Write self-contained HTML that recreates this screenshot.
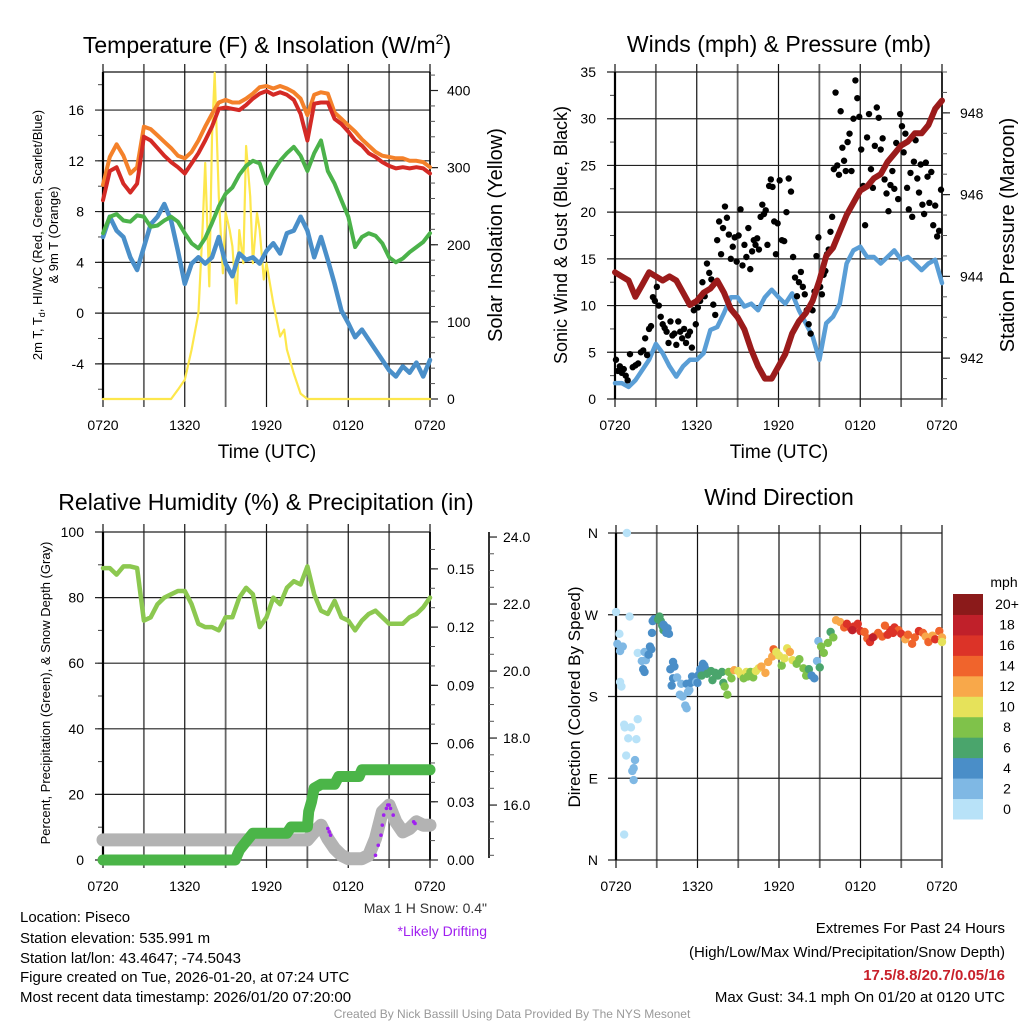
<!DOCTYPE html>
<html><head><meta charset="utf-8"><style>
html,body{margin:0;padding:0;background:#fff;}
svg{display:block;font-family:"Liberation Sans",sans-serif;}
</style></head><body>
<svg id="chart" width="1024" height="1024" viewBox="0 0 1024 1024" xmlns="http://www.w3.org/2000/svg">
<rect width="1024" height="1024" fill="#fff"/>
<text x="267" y="53" font-size="23" text-anchor="middle">Temperature (F) &amp; Insolation (W/m<tspan dy="-9" font-size="14">2</tspan><tspan dy="9">)</tspan></text>
<text x="779" y="52" font-size="23" text-anchor="middle">Winds (mph) &amp; Pressure (mb)</text>
<text x="266" y="510" font-size="23" text-anchor="middle">Relative Humidity (%) &amp; Precipitation (in)</text>
<text x="779" y="505" font-size="23" text-anchor="middle">Wind Direction</text>

<text transform="translate(42,235) rotate(-90)" font-size="13" text-anchor="middle">2m T, T<tspan font-size="9" dy="3">d</tspan><tspan dy="-3">, HI/WC (Red, Green, Scarlet/Blue)</tspan></text>
<text transform="translate(58,235) rotate(-90)" font-size="13" text-anchor="middle">&amp; 9m T (Orange)</text>
<text transform="translate(502,235) rotate(-90)" font-size="20" text-anchor="middle">Solar Insolation (Yellow)</text>
<text transform="translate(567,235) rotate(-90)" font-size="18" text-anchor="middle">Sonic Wind &amp; Gust (Blue, Black)</text>
<text transform="translate(1014,235) rotate(-90)" font-size="20" text-anchor="middle">Station Pressure (Maroon)</text>
<text transform="translate(50,693) rotate(-90)" font-size="13" text-anchor="middle">Percent, Precipitation (Green), &amp; Snow Depth (Gray)</text>
<text transform="translate(580,697) rotate(-90)" font-size="17" text-anchor="middle">Direction (Colored By Speed)</text>
<text x="267" y="458" font-size="19" text-anchor="middle">Time (UTC)</text>
<text x="779" y="458" font-size="19" text-anchor="middle">Time (UTC)</text>

<text x="487" y="913" font-size="14" fill="#333" text-anchor="end">Max 1 H Snow: 0.4"</text>
<text x="487" y="936" font-size="14" fill="#a020f0" text-anchor="end">*Likely Drifting</text>
<g font-size="15">
<text x="20" y="922">Location: Piseco</text>
<text x="20" y="943">Station elevation: 535.991 m</text>
<text x="20" y="963">Station lat/lon: 43.4647; -74.5043</text>
<text x="20" y="982">Figure created on Tue, 2026-01-20, at 07:24 UTC</text>
<text x="20" y="1002">Most recent data timestamp: 2026/01/20 07:20:00</text>
</g>
<g font-size="15" text-anchor="end">
<text x="1005" y="933">Extremes For Past 24 Hours</text>
<text x="1005" y="957">(High/Low/Max Wind/Precipitation/Snow Depth)</text>
<text x="1005" y="980" fill="#c8202a" font-weight="bold">17.5/8.8/20.7/0.05/16</text>
<text x="1005" y="1002">Max Gust: 34.1 mph On 01/20 at 0120 UTC</text>
</g>
<text x="512" y="1018" font-size="12" fill="#999" text-anchor="middle">Created By Nick Bassill Using Data Provided By The NYS Mesonet</text>
<text x="1004" y="587" font-size="14" text-anchor="middle">mph</text>
</svg>
<script>
const hh=[0,0.5,1,1.5,2,2.5,3,3.5,4,4.5,5,5.5,6,6.5,7,7.5,8,8.5,9,9.5,10,10.5,11,11.5,12,12.5,13,13.5,14,14.5,15,15.5,16,16.5,17,17.5,18,18.5,19,19.5,20,20.5,21,21.5,22,22.5,23,23.5,24];
const timeLabels=['0720','1320','1920','0120','0720'];
const tempRed=[8.9,11.2,11.5,10.2,9.5,10.2,13.9,13.6,13,12.4,11.9,11.5,11,11.8,12.6,13.6,14.7,16.1,16.2,16.1,16,16.4,16.9,17.3,17.5,17.2,17.4,17.2,16.8,15.7,13.6,16.5,16.6,16.6,15.3,14.9,14.3,13.6,13.2,12.6,12.3,11.9,11.6,11.4,11.5,11.4,11.5,11.4,11.0];
const tempOrange=[10.1,12.3,13.3,12.4,11,11.5,14.7,14.5,14,13.5,13,12.4,12.2,12.7,13.6,14.7,15.7,16.6,16.8,16.6,16.6,16.9,17.3,17.8,17.9,17.7,17.9,17.7,17.4,16.9,15.6,17.2,17.4,17.3,15.8,15.3,14.8,14.3,13.7,13.2,12.7,12.4,12.3,12.2,12.2,12.0,12,11.9,11.5];
const tempDew=[6.3,7.6,7.8,7.3,7.2,7.7,7.6,6.8,6.9,7.3,7.6,7.2,6.3,5.5,5.1,5.9,7.1,8.4,9.4,9.9,10.9,11.6,12,11.8,10.2,11.2,12,12.6,13.1,12.4,11.2,12.6,13.6,11.2,10.2,8.9,7.6,5.2,6,6.3,6.1,5.5,4.4,4,4.3,4.8,5.2,5.6,6.3];
const windChill=[6,7.6,6.5,6,4.4,3.4,5.2,7,7.6,8.6,7.3,4.9,2.3,3.9,4.4,3.9,4.4,6,3.9,2.9,4.7,4.2,4.4,3.9,4.9,5.5,4.7,6.3,6.5,7.6,6.5,4.4,6,4.2,2.3,0.2,-0.8,-1.9,-1.3,-2.1,-2.9,-3.7,-4.5,-5,-4.2,-4.7,-3.9,-5,-3.7];
const solarHours=[0,5,5.5,6,6.5,7,7.3,7.5,7.8,8,8.2,8.5,8.8,9,9.3,9.5,9.8,10,10.3,10.5,10.8,11,11.3,11.5,11.8,12,12.5,13,13.3,13.5,14,14.5,15,24];
const solarVals=[0,0,12,25,64,111,219,306,146,340,423,263,163,242,219,198,124,219,176,328,263,176,241,219,155,176,124,81,90,64,33,7,0,0];
const tempTicks=[-4,0,4,8,12,16];
const solarTicks=[0,100,200,300,400];
const pressure=[944.1,944.0,943.9,943.5,943.8,944.1,944.0,943.9,944,943.9,943.6,943.3,943.4,943.6,943.7,943.9,943.6,943.2,943.0,942.7,942.2,941.8,941.5,941.5,941.8,942.1,942.6,942.9,943.1,943.4,943.9,944.5,944.7,945.1,945.5,945.8,946.1,946.2,946.4,946.5,946.8,947.0,947.2,947.3,947.5,947.5,947.7,948.1,948.3];
const windSpeed=[1.7,1.7,1.3,2,3.1,4.2,5.9,4.9,3.5,2.4,3.5,4.2,4.2,4.9,7.4,7.7,9.2,10.9,10.9,9.9,10.2,9.5,10.9,11.7,10.9,10.2,11.3,9.5,8.1,6.7,4.2,8.1,8.8,10.2,14.5,15.9,16.3,15.2,15.2,14.5,15.2,15.9,14.9,15.2,14.5,13.8,14.5,14.9,12.4];
const gustByHour=[[4.2,3,3.5,2.8,3.2,2.5,2],[4.8,3.4,3.6,3.8,5],[5.2,6.5,4.7,7.5,7.8,10.9,10.5],[12,10,8.8,8,7.6,7.2,6],[8.3,6.8,7,5.8,8.3,7.2,6.5],[7.5,6,6.8,7.2,5.5,9.5,8],[9.8,10.5,12.5,11,14.5,13.5],[12.8,10.1,9,17,19,15.5,18.3],[20.6,19.4,17.6,15,16.3,17.3,14.7],[17.5,20.3,14.3,16.5,15.2,18.3,13.9],[15.8,17,16.5,17.2,16,19.5,20.8,19.8],[20.2,16.5,22.8,23.5,22.7,19,15.5,18.8],[23.4,17,16.9,20,23.6,22.2],[15.2,13,11,12.5,13.6,12,11.2],[9.5,8,7,9.5,11.5,15.3,17.3],[12,11.2,13.3,13.7,15.5,16,17.9,19.5],[24.6,32.8,25,24,30.8,26.9,25.5,24.4],[27.5,28.4,24.4,30,34.1,32.2,30.2],[26.7,22.8,18.6,28,30.5,24.6,22.6],[27.1,31.2,30.1,26.7,27.9,23.5,22],[20.1,22.9,24.4,22.5,27.4,21.4,30.5],[29.2,26.4,28.4,22.6,20.3,24.2,19.5,25.4],[27.7,23.6,22.1,25.1,20.8,19.8,25.3,23.8],[21,24.3,18.6,20.7,17.4,18,22.4]];
const windTicks=[0,5,10,15,20,25,30,35];
const pressTicks=[942,944,946,948];
const rh=[89,89,87,89.5,89.5,89,73,74,78,80,81,82,82,78,72,71,71,70,74,74,80,83,81,71,74,80,78,83,85,84,89.5,81,76,75,79,74,73,70,73,75,76,74,72,72,72,74,75,77,80];
const precipHours=[0,9.7,10,10.5,11,13.5,13.8,15,15.1,15.3,15.5,16,17,17.3,18.8,19,24];
const precipVals=[0,0,0.005,0.0095,0.0138,0.0138,0.017,0.017,0.025,0.030,0.037,0.039,0.039,0.043,0.043,0.0465,0.0465];
const snowHours=[0,15,15.5,16,16.5,17,17.5,18,19,19.5,20,20.5,21,21.5,22,22.5,23,23.5,24];
const snowVals=[14.96,14.96,15.2,15.4,15,14.7,14.5,14.4,14.4,14.5,15,15.8,16.0,15.5,15.2,15.3,15.5,15.4,15.4];
const driftHours=[16.5,16.6,16.7,20.0,20.2,20.4,20.5,20.6,20.8,20.9,21.0,21.1,21.3,22.8,22.9];
const driftVals=[15.3,15.2,15.1,14.5,14.8,15.1,15.4,15.7,15.9,16.0,16.0,15.9,15.7,15.5,15.45];
const rhTicks=[0,20,40,60,80,100];
const precipTicks=[0,0.03,0.06,0.09,0.12,0.15];
const snowTicks=[16,18,20,22,24];
const dirHours=[0.8,0,0.25,0.1,0.3,0.5,0.3,0.4,1,0.6,0.65,1.1,0.9,1.5,0.75,1.4,1.3,1.2,1.3,0.6,1.6,1.6,2.1,1.9,2.2,2,2.1,2.4,2.5,2.6,2.65,2.7,2.8,3.1,3.2,3.3,3.4,3.5,3.5,3.6,3.7,3.8,3.9,4,4.1,4.2,4.3,4.2,4.5,4.7,4.8,4.9,5.1,5.2,5.3,5.2,5.4,5.5,5.6,5.8,5.9,6,6.1,6.2,6.4,6.5,6.6,6.3,6.7,7,7.1,7.3,7.5,7.9,7.8,8,8.2,8.3,8.5,8.7,9,9.2,9.4,9.6,9.7,9.9,10.1,10.3,10.5,10.7,11,11.2,11.5,11.6,11.8,12,12.2,12.4,12.6,12.8,13,13.3,13.5,13.8,14,14.2,14.4,14.6,14.8,14.9,15,15.1,15.3,15.6,15.8,16,16.2,16.5,16.8,17,17.3,17.5,17.8,18,18.3,18.5,18.7,19,19.3,19.6,20,20.2,20.5,20.8,21,21.3,21.5,21.8,22,22.3,22.6,22.8,23,23.3,23.5,23.8,24,24,19.8,20.4,17.4,18.9];
const dirDeg=[360,273,249,238,230,235,196,191,268,149,146,146,134,133,115,110,101,98,88,28,155,228,229,219,220,210,207,226,235,232,250,263,265,265,268,263,258,253,259,257,250,255,249,210,192,200,213,218,201,182,194,180,170,167,185,194,187,195,202,197,196,195,204,210,216,214,210,203,205,208,198,206,203,195,207,191,182,207,200,209,208,204,200,207,202,207,201,208,211,213,206,218,224,232,229,225,214,222,233,229,220,216,221,211,203,210,203,200,219,241,212,235,228,239,251,245,264,262,256,260,255,257,260,252,251,244,240,246,250,246,248,253,256,253,249,243,248,238,245,252,250,246,240,247,243,252,245,240,258,250,253,245];
const dirSpeed=[1,0,1.5,3,3,2.5,1.5,1,1,1,1,1,0,1,1,2,2.5,3,3,0,1,1,3,3.5,3,4,4.5,4,4.5,5,4.5,5,4.5,7,6,7.5,6.5,6,4.5,5,4.8,4.5,4.5,4.5,4,4,4.5,4,3,3,3,3,3,3,3,4,3,4,4,4,3.5,4,4,5,4.5,4,4.5,6.5,6,7,7,6,7,7,6,8,8,9,8,12,10,10.5,8.5,10,9,8,9.5,10.5,11,12,12,12.5,12.5,15,11,11.5,9.5,10,11,12,10.5,9,8.5,8,8,6,4.5,4.5,3.5,2.5,7,9,8,8,7.5,9,13,13.5,15,17,17,16,17,17,15,15,17,15,14,14.5,16,16.5,16,15,16,13.5,15,14,14.5,16,15,13,14,12.5,16,14,12,10,15.5,16.5,18,18];
const speedBins=['0','2','4','6','8','10','12','14','16','18','20+'];
const binColors=['#b8e2f8','#7fb8e4','#4a8ec8','#4aa56c','#7fc24a','#e6e25a','#f8a84a','#f0642c','#dc3328','#c0202a','#8b1a1a'];

const NS='http://www.w3.org/2000/svg';
const svg=document.getElementById('chart');
function mk(tag,attrs,parent){const e=document.createElementNS(NS,tag);for(const k in attrs)e.setAttribute(k,attrs[k]);(parent||svg).appendChild(e);return e;}
function lin(d0,d1,r0,r1){return v=>r0+(v-d0)/(d1-d0)*(r1-r0);}
function pathD(xs,ys,sx,sy){return xs.map((x,i)=>(i?'L':'M')+sx(x).toFixed(1)+','+sy(ys[i]).toFixed(1)).join('');}
function stepD(xs,ys,sx,sy){let d='';xs.forEach((x,i)=>{d+=(i?'L':'M')+sx(x).toFixed(1)+','+sy(ys[i]).toFixed(1);});return d;}

function frame(name,x0,x1,y0,y1,leftTicks,sl,leftMinor,leftFmt,labelLeftX){
  const g=mk('g',{});
  
  
  const sx=lin(0,24,x0,x1);
  for(let h=0;h<=24;h+=3){
    const ln=mk('line',{x1:sx(h),x2:sx(h),y1:y0-8,y2:y1+8,stroke:(h%6)?'#666':'#111','stroke-width':(h%6)?1.8:1.2},g);
    
    
  }
  leftMinor.forEach(v=>{const t=mk('line',{x1:x0-5,x2:x0,y1:sl(v),y2:sl(v),stroke:'#444','stroke-width':1},g);
    
    });
  leftTicks.forEach((v,i)=>{const ln=mk('line',{x1:x0-8,x2:x1,y1:sl(v),y2:sl(v),stroke:'#222','stroke-width':1.2},g);
    
    
    const t=mk('text',{x:labelLeftX,y:sl(v)+5,'font-size':14,'text-anchor':'end'},g);t.textContent=leftFmt(v,i);
    
    });
  const ax=mk('line',{x1:x0,x2:x0,y1:y0,y2:y1,stroke:'#000','stroke-width':2.2},g);
  
  
  timeLabels.forEach((lb,i)=>{const t=mk('text',{x:sx(i*6),y:y1+31,'font-size':14,'text-anchor':'middle'},g);t.textContent=lb;
    
    });
  return sx;
}
function rightAxis(name,x1,y0,y1,ticks,sr,minor,fmt,labelX,axisX){
  const g=mk('g',{});
  
  
  const ax=axisX||x1;
  const al=mk('line',{x1:ax,x2:ax,y1:y0,y2:y1,stroke:'#000','stroke-width':1.6},g);
  
  
  minor.forEach(v=>{const t=mk('line',{x1:ax,x2:ax+5,y1:sr(v),y2:sr(v),stroke:'#555','stroke-width':1},g);
    
    });
  ticks.forEach(v=>{const t=mk('line',{x1:ax,x2:ax+8,y1:sr(v),y2:sr(v),stroke:'#222','stroke-width':1.2},g);
    
    
    const l=mk('text',{x:labelX,y:sr(v)+5,'font-size':14},g);l.textContent=fmt(v);
    
    });
}
function range(a,b,s){const r=[];for(let v=a;v<=b+1e-9;v+=s)r.push(+v.toFixed(4));return r;}
function series(d,color,w,name,extra){const p=mk('path',Object.assign({d:d,fill:'none',stroke:color,'stroke-width':w,'stroke-linejoin':'round','stroke-linecap':'round'},extra||{}));
  
  return p;}

// Panel 1
{const y0=72,y1=399;const st=lin(-6.77,19,y1,y0);const ss=lin(0,424,y1,y0);
 const sx=frame('temp',103,430,y0,y1,tempTicks,st,range(-6,18,2),v=>String(v),84);
 const top=mk('line',{x1:103,x2:430,y1:y0,y2:y0,stroke:'#111','stroke-width':1.2});
 
 
 rightAxis('solar-axis',430,y0,y1,solarTicks,ss,range(0,420,20),v=>String(v),447);
 series(pathD(solarHours,solarVals,sx,ss),'#fde74c',2.2,'solar-line');
 series(pathD(hh,windChill,sx,st),'#4a8fc9',4.5,'windchill-line');
 series(pathD(hh,tempDew,sx,st),'#4bb24a',4,'dewpoint-line');
 series(pathD(hh,tempOrange,sx,st),'#f4812a',4,'temp-9m-line');
 series(pathD(hh,tempRed,sx,st),'#d42a25',4,'temp-2m-line');
}
// Panel 2
{const y0=72,y1=399;const sw=lin(0,35,y1,y0);const sp=lin(941,949,y1,y0);
 const sx=frame('wind',615,942,y0,y1,windTicks,sw,range(0,35,2.5),v=>String(v),596);
 rightAxis('pressure-axis',942,y0,y1,pressTicks,sp,range(941,949,0.5),v=>String(v),960);
 series(pathD(hh,windSpeed,sx,sw),'#5a9ed6',4.5,'wind-speed-line');
 const g=mk('g',{});
 
 
 gustByHour.forEach((arr,h)=>arr.forEach((v,i)=>{const c=mk('circle',{cx:sx(h+(i+0.5)/arr.length),cy:sw(v),r:3.2,fill:'#000'},g);
   
   }));
 series(pathD(hh,pressure,sx,sp),'#9b1b1b',6,'pressure-line');
}
// Panel 3
{const y0=532,y1=860;const sr=lin(0,100,y1,y0);const spc=lin(0,0.169,y1,y0);const ssn=lin(14.36,24.15,y1,y0);
 const sx=frame('rh',103,430,y0,y1,rhTicks,sr,range(0,100,10),v=>String(v),84);
 const r=mk('line',{x1:430,x2:430,y1:y0,y2:y1,stroke:'#000','stroke-width':1.6});
 
 
 rightAxis('precip-axis',430,y0,y1,precipTicks,spc,range(0,0.16,0.01),v=>v.toFixed(2),447);
 rightAxis('snow-axis',489,y0,y1-2,snowTicks,ssn,range(14.5,24,0.5),v=>v.toFixed(1),503,489);
 series(pathD(snowHours,snowVals,sx,ssn),'#b3b3b3',13,'snow-depth-line');
 series(stepD(precipHours,precipVals,sx,spc),'#4bb548',11,'precip-line');
 series(pathD(hh,rh,sx,sr),'#8cc850',4.5,'rh-line');
 const g=mk('g',{});
 
 
 driftHours.forEach((h,i)=>{const c=mk('circle',{cx:sx(h),cy:ssn(driftVals[i]),r:1.8,fill:'#a020f0'},g);
   
   });
}
// Panel 4
{const y0=533,y1=860;const sd=lin(0,360,y1,y0);
 const sx=frame('direction',616,942,y0,y1,[0,90,180,270,360],sd,[],(v,i)=>['N','E','S','W','N'][i],598);
 const g=mk('g',{});
 
 
 dirHours.forEach((h,i)=>{const b=Math.min(10,Math.floor(dirSpeed[i]/2));
   const c=mk('circle',{cx:sx(h),cy:sd(dirDeg[i]),r:4.2,fill:binColors[b]},g);
   
   });
 const cb=mk('g',{});
 
 
 const segH=(819-594)/11;
 speedBins.forEach((lb,i)=>{const y=819-(i+1)*segH;
   const r=mk('rect',{x:953,y:y,width:30,height:segH+0.5,fill:binColors[i]},cb);
   
   
   const t=mk('text',{x:1007,y:y+segH/2+5,'font-size':14,'text-anchor':'middle'},cb);t.textContent=lb;
   
   });
}
</script>
</body></html>
